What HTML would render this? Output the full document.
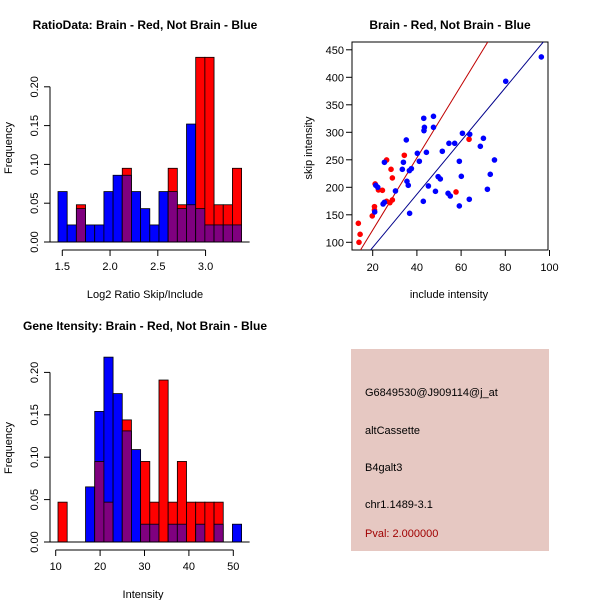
<!DOCTYPE html>
<html><head><meta charset="utf-8"><style>
body{margin:0;background:#fff}
svg{display:block;font-family:"Liberation Sans",sans-serif}
text{font-size:11px}
.t{font-weight:bold;font-size:12px}
</style></head><body>
<svg id="s" width="600" height="600" xmlns="http://www.w3.org/2000/svg">
<rect width="600" height="600" fill="#fff"/>
<text class="t" x="145" y="29" text-anchor="middle">RatioData: Brain - Red, Not Brain - Blue</text>
<text class="t" x="450" y="29" text-anchor="middle">Brain - Red, Not Brain - Blue</text>
<text class="t" x="145" y="330" text-anchor="middle">Gene Itensity: Brain - Red, Not Brain - Blue</text>
<text x="145" y="298" text-anchor="middle">Log2 Ratio Skip/Include</text>
<text x="12" y="148" text-anchor="middle" transform="rotate(-90 12 148)">Frequency</text>
<text x="449" y="298" text-anchor="middle">include intensity</text>
<text x="312" y="148" text-anchor="middle" transform="rotate(-90 312 148)">skip intensity</text>
<text x="143" y="598" text-anchor="middle">Intensity</text>
<text x="12" y="448" text-anchor="middle" transform="rotate(-90 12 448)">Frequency</text>
<g id="h1"></g>
<g id="h2"></g>
<g id="sc"></g>
<rect x="351" y="349" width="198" height="202" fill="#e6c8c2"/>
<text x="365" y="396">G6849530@J909114@j_at</text>
<text x="365" y="434">altCassette</text>
<text x="365" y="471">B4galt3</text>
<text x="365" y="508">chr1.1489-3.1</text>
<text x="365" y="537" fill="#a00000">Pval: 2.000000</text>
</svg>
<script>
const NS="http://www.w3.org/2000/svg";
// Ratio histogram data
const ratioBlue=[0.065,0.022,0.043,0.022,0.022,0.065,0.086,0.086,0.065,0.043,0.022,0.065,0.065,0.043,0.152,0.043,0.022,0.022,0.022,0.022];
const ratioRed=[0,0,0.048,0,0,0,0,0.095,0,0,0,0,0.095,0.048,0.048,0.238,0.238,0.048,0.048,0.095];
const ratioXTicks=[1.5,2.0,2.5,3.0];
const ratioXLabels=["1.5","2.0","2.5","3.0"];
const ratioYTicks=[0,0.05,0.1,0.15,0.2];
const ratioYLabels=["0.00","0.05","0.10","0.15","0.20"];
// Gene histogram data
const geneBlue=[0,0,0,0.065,0.154,0.218,0.175,0.131,0.109,0.021,0.021,0,0.021,0.021,0,0.021,0,0.021,0,0.021];
const geneRed=[0.047,0,0,0,0.095,0.047,0,0.144,0,0.095,0.047,0.191,0.047,0.095,0.047,0.047,0.047,0.047,0,0];
const geneXTicks=[10,20,30,40,50];
const geneXLabels=["10","20","30","40","50"];
const geneYTicks=[0,0.05,0.1,0.15,0.2];
const geneYLabels=["0.00","0.05","0.10","0.15","0.20"];
// Scatter data
const redX=[13.5,14.3,13.8,19.8,20.8,20.8,21.1,22.6,24.4,26.3,28.3,28.9,27.8,28.9,26.3,34.3,57.7,63.6];
const redY=[134.5,114.5,100,147.9,164.8,158.8,206.1,195.2,194.5,249.7,232.7,217,172.1,177,174.5,258.2,191.5,287.3];
const blueX=[20.9,21.4,22.3,24.7,25.3,25.3,30.3,33.4,33.9,35.2,35.5,36.1,36.7,36.6,37.5,40.2,41.1,42.9,43.2,43.4,43.1,44.3,45.2,47.5,47.5,48.4,49.6,50.6,51.5,54.1,54.5,55.1,57.1,59.2,59.2,60.1,60.6,63.7,63.9,68.7,70.1,71.9,73.2,75.1,80.2,96.3];
const blueY=[155.2,203.6,200,169.7,172.7,245.5,193.3,232.7,245.5,286.1,210.9,203.6,152.7,230.3,233.9,261.8,247.3,174.5,303,309.1,325.5,263.6,202.4,309.1,329.1,192.7,219.4,215.2,265.5,189.1,280,184.2,280,247.3,166.1,220,298.2,178.2,296.4,274.5,289.1,196.4,223.6,249.7,392.7,437];
const redLine=[6.57,-9.2];
const blueLine=[4.84,-6.2];
const scXTicks=[20,40,60,80,100];
const scYTicks=[100,150,200,250,300,350,400,450];

function el(p,tag,a){const e=document.createElementNS(NS,tag);for(const k in a)e.setAttribute(k,a[k]);p.appendChild(e);return e;}
function txt(p,x,y,s,anchor,rot){const t=el(p,"text",{x:x,y:y,"text-anchor":anchor});if(rot)t.setAttribute("transform","rotate(-90 "+x+" "+y+")");t.textContent=s;return t;}

function hist(g,blue,red,x0,bw,xs,y0,ys,xt,xl,yt,yl,xAxisY){
  const n=blue.length;
  for(let i=0;i<n;i++){
    const x=x0+i*bw,b=blue[i],r=red[i];
    const mx=Math.max(b,r),mn=Math.min(b,r);
    if(mx>0){const top=el(g,"rect",{x:x,y:y0-mx*ys,width:bw,height:mx*ys,fill:b>=r?"#0000ff":"#ff0000",stroke:"#000","stroke-width":0.8});
      
      }
    if(mn>0){const p=el(g,"rect",{x:x,y:y0-mn*ys,width:bw,height:mn*ys,fill:"#7f007f",stroke:"#000","stroke-width":0.8});
      
      }
  }
  const ax=x0-8;
  el(g,"line",{x1:ax,y1:y0-yt[0]*ys,x2:ax,y2:y0-yt[yt.length-1]*ys,stroke:"#000"});
  yt.forEach((v,i)=>{const y=y0-v*ys;el(g,"line",{x1:ax-6,y1:y,x2:ax,y2:y,stroke:"#000"});txt(g,ax-12,y,yl[i],"middle",true);});
  el(g,"line",{x1:xs(xt[0]),y1:xAxisY,x2:xs(xt[xt.length-1]),y2:xAxisY,stroke:"#000"});
  xt.forEach((v,i)=>{const x=xs(v);el(g,"line",{x1:x,y1:xAxisY,x2:x,y2:xAxisY+6,stroke:"#000"});txt(g,x,xAxisY+20,xl[i],"middle");});
  el(g,"line",{x1:x0-8,y1:y0,x2:x0+n*bw+8,y2:y0,stroke:"#000"});
}
const h1=document.getElementById("h1");
hist(h1,ratioBlue,ratioRed,58,9.18,v=>62.3+(v-1.5)*95.5,242,776,ratioXTicks,ratioXLabels,ratioYTicks,ratioYLabels,250);
const h2=document.getElementById("h2");
hist(h2,geneBlue,geneRed,58,9.18,v=>55.7+(v-10)*4.44,542,848,geneXTicks,geneXLabels,geneYTicks,geneYLabels,550);

const sc=document.getElementById("sc");
const sx=v=>372.7+(v-20)*2.21, sy=v=>242.3-(v-100)*0.55;
el(sc,"clipPath",{id:"cp"}).appendChild(Object.assign(document.createElementNS(NS,"rect"),{}));
const cr=document.querySelector("#cp rect");cr.setAttribute("x",352);cr.setAttribute("y",42);cr.setAttribute("width",196);cr.setAttribute("height",208);
el(sc,"rect",{x:352,y:42,width:196,height:208,fill:"none",stroke:"#000"});
scXTicks.forEach(v=>{el(sc,"line",{x1:sx(v),y1:250,x2:sx(v),y2:256,stroke:"#000"});txt(sc,sx(v),271,String(v),"middle");});
scYTicks.forEach(v=>{el(sc,"line",{x1:346,y1:sy(v),x2:352,y2:sy(v),stroke:"#000"});txt(sc,344,sy(v)+4,String(v),"end");});
const lr=el(sc,"line",{x1:sx(0),y1:sy(redLine[1]),x2:sx(120),y2:sy(redLine[0]*120+redLine[1]),stroke:"#c00000","clip-path":"url(#cp)"});


const lb=el(sc,"line",{x1:sx(0),y1:sy(blueLine[1]),x2:sx(120),y2:sy(blueLine[0]*120+blueLine[1]),stroke:"#00008b","clip-path":"url(#cp)"});


redX.forEach((x,i)=>{const c=el(sc,"circle",{cx:sx(x),cy:sy(redY[i]),r:2.8,fill:"#ff0000"});
  
  });
blueX.forEach((x,i)=>{const c=el(sc,"circle",{cx:sx(x),cy:sy(blueY[i]),r:2.8,fill:"#0000ff"});
  
  });
</script>
</body></html>
